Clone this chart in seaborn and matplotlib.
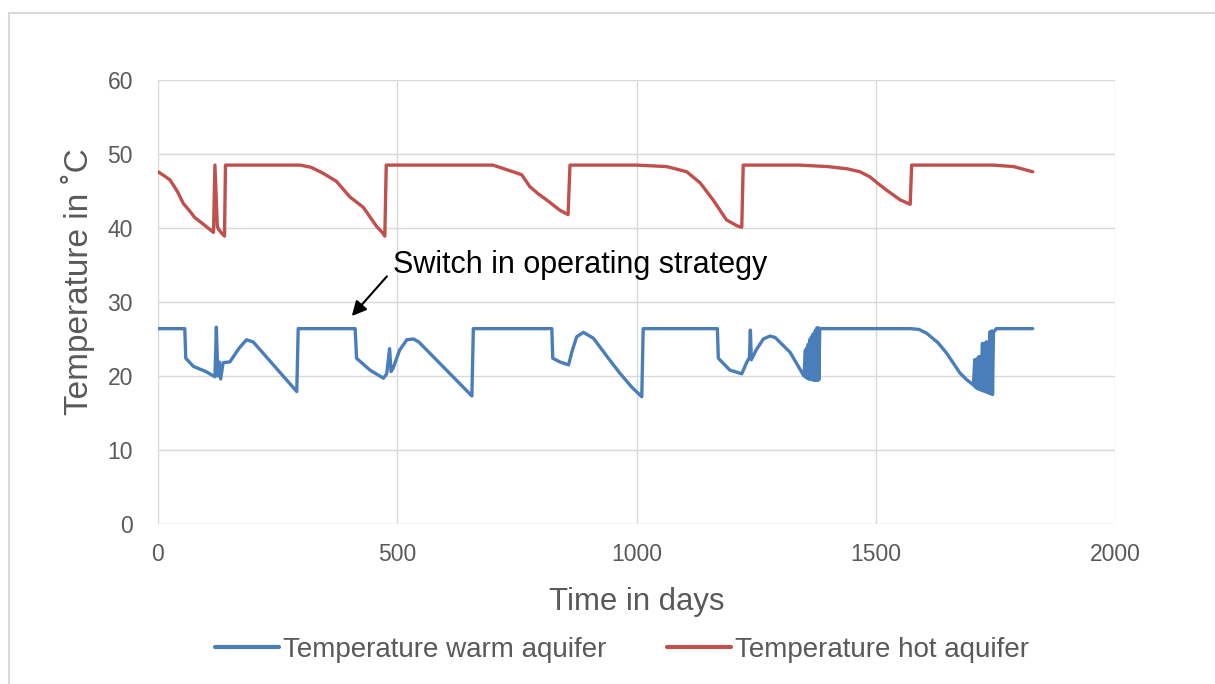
import matplotlib
matplotlib.use("Agg")
import matplotlib.pyplot as plt
import pandas as pd
import seaborn as sns
from matplotlib.patches import Rectangle

# values (days, degC)
warm_days = [0, 56, 58, 74, 100, 119, 122, 125, 128, 131, 136, 150, 170, 185, 199, 290,
             293, 412, 415, 443, 471, 478, 484, 487, 491, 505, 520, 534, 545, 656,
             659, 823, 825, 840, 858, 866, 875, 889, 910, 940, 965, 990, 1011,
             1014, 1169, 1171, 1195, 1220, 1230, 1236, 1238, 1240, 1250, 1265, 1279, 1290, 1321, 1350,
             1353, 1354, 1356, 1357, 1359, 1360, 1362, 1363, 1365, 1366, 1368, 1369,
             1371, 1372, 1374, 1375, 1377, 1378, 1380, 1381,
             1383, 1572, 1590, 1606, 1630, 1648, 1676, 1690, 1704,
             1707, 1708, 1711, 1712, 1715, 1716, 1719, 1720, 1723, 1724, 1727, 1728,
             1731, 1732, 1735, 1736, 1739, 1740, 1743, 1744, 1746, 1752, 1828]
warm_temp = [26.4, 26.4, 22.4, 21.3, 20.6, 19.9, 26.6, 20.0, 21.9, 19.6, 21.8, 21.9, 23.8, 24.9, 24.6, 17.9,
             26.4, 26.4, 22.4, 20.8, 19.7, 20.3, 23.7, 20.6, 21.0, 23.5, 24.9, 25.0, 24.6, 17.3,
             26.4, 26.4, 22.4, 21.9, 21.5, 23.5, 25.3, 25.9, 25.1, 22.5, 20.4, 18.5, 17.2,
             26.4, 26.4, 22.4, 20.8, 20.3, 21.8, 22.5, 26.2, 22.2, 23.5, 25.0, 25.4, 25.2, 23.2, 20.0,
             23.5, 19.8, 23.8, 19.7, 24.3, 19.6, 24.9, 19.6, 25.2, 19.5, 25.6, 19.5,
             25.8, 19.4, 26.2, 19.4, 26.5, 19.4, 26.5, 19.5,
             26.4, 26.4, 26.3, 25.8, 24.5, 23.1, 20.4, 19.5, 18.8,
             22.2, 18.5, 22.3, 18.3, 22.6, 18.2, 22.6, 18.1, 24.4, 18.0, 24.4, 17.9,
             24.6, 17.8, 24.6, 17.7, 26.0, 17.6, 26.1, 17.5, 25.9, 26.4, 26.4]

hot_days = [0, 12, 25, 40, 53, 65, 77, 95, 116, 119, 124, 127, 133, 139, 141,
            297, 320, 345, 373, 401, 429, 457, 470, 474, 477,
            700, 742, 760, 777, 795, 812, 840, 857, 861,
            1000, 1063, 1105, 1133, 1160, 1188, 1210, 1220, 1223,
            1340, 1400, 1440, 1467, 1488, 1505, 1523, 1551, 1572, 1575,
            1745, 1788, 1828]
hot_temp = [47.6, 47.1, 46.5, 45.0, 43.3, 42.4, 41.4, 40.5, 39.4, 48.5, 40.2, 39.8, 39.3, 38.9, 48.5,
            48.5, 48.2, 47.4, 46.3, 44.2, 42.8, 40.2, 39.3, 38.9, 48.5,
            48.5, 47.6, 47.2, 45.6, 44.6, 43.8, 42.4, 41.8, 48.5,
            48.5, 48.3, 47.6, 46.1, 43.8, 41.1, 40.3, 40.1, 48.5,
            48.5, 48.3, 48.0, 47.6, 46.9, 46.0, 45.1, 43.8, 43.2, 48.5,
            48.5, 48.3, 47.6]

series_names = ["Temperature warm aquifer", "Temperature hot aquifer"]
series_colors = ["#4a7ebb", "#c0504d"]
x_ticks = [0, 500, 1000, 1500, 2000]
y_ticks = [0, 10, 20, 30, 40, 50, 60]

df = pd.concat([
    pd.DataFrame({"day": warm_days, "temp": warm_temp, "series": series_names[0]}),
    pd.DataFrame({"day": hot_days, "temp": hot_temp, "series": series_names[1]}),
], ignore_index=True)

sns.set_theme(style="white")
plt.rcParams["font.family"] = ["Liberation Sans", "DejaVu Sans"]
grey = "#595959"

fig = plt.figure(figsize=(12.15, 6.84), dpi=100)
ax = fig.add_axes([158 / 1215, 1 - 524 / 684, (1115 - 158) / 1215, (524 - 80) / 684])

sns.lineplot(data=df, x="day", y="temp", hue="series", palette=series_colors,
             estimator=None, sort=False, linewidth=2.4, ax=ax)

ax.set_xlim(0, 2000)
ax.set_ylim(0, 60)
ax.set_xticks(x_ticks)
ax.set_yticks(y_ticks)
ax.grid(True, color="#d9d9d9", linewidth=1)
ax.set_axisbelow(True)
for s in ax.spines.values():
    s.set_visible(False)
ax.tick_params(axis="both", length=0, labelsize=16.5, colors=grey)
ax.tick_params(axis="y", pad=18)
ax.tick_params(axis="x", pad=14)
ax.set_xlabel("Time in days", fontsize=22.4, color=grey, labelpad=15)
ax.set_ylabel("Temperature in ˚C", fontsize=24, color=grey)
ax.yaxis.set_label_coords(-0.066, 0.545)

ax.annotate("Switch in operating strategy", xy=(405, 28.1), xytext=(491, 35),
            fontsize=22, color="black", ha="left", va="center",
            arrowprops=dict(arrowstyle="-|>", color="black", lw=1.5,
                            mutation_scale=22, relpos=(0, 0.35), shrinkA=3, shrinkB=0))

handles, labels = ax.get_legend_handles_labels()
ax.legend(handles, labels, loc="center", bbox_to_anchor=(622 / 1215, 1 - 650 / 684),
          bbox_transform=fig.transFigure, ncol=2, frameon=False, fontsize=20,
          handlelength=2.3, handletextpad=0.15, columnspacing=2.2, labelcolor=grey)
for line in ax.get_legend().get_lines():
    line.set_linewidth(3)

fig.patches.append(Rectangle((9 / 1215, -0.05), 1.2, 1.05 - 13 / 684, transform=fig.transFigure,
                             fill=False, edgecolor="#d9d9d9", linewidth=1.5))

fig.savefig("out.png", dpi=100)
